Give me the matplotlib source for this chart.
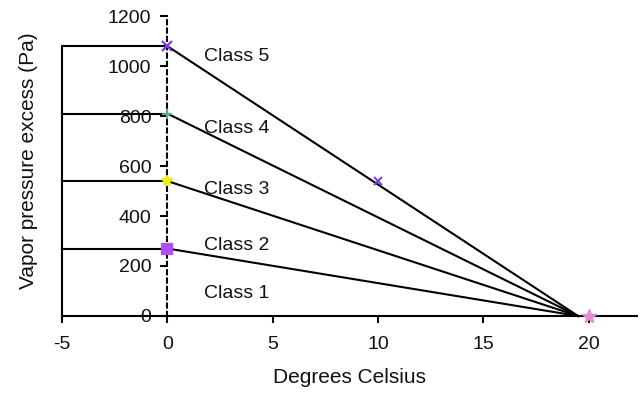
import matplotlib.pyplot as plt

plt.rcParams['font.family'] = ['Liberation Sans', 'DejaVu Sans']
plt.rcParams['axes.unicode_minus'] = False

# vapour pressure excess at 0 degC for each class boundary, falling to 0 near 20 degC
classes = ['Class 2', 'Class 3', 'Class 4', 'Class 5']
p_at_zero = [270, 540, 810, 1080]
t_zero = 0
t_end = 19.5
t_left = -5
marker_colors = ['#b44cf0', '#f0f000', '#5aa89a', '#7a3ce0']
marker_styles = ['s', '*', '+', 'x']

mid_point = (10, 540)
end_point = (20, 0)

label_names = ['Class 5', 'Class 4', 'Class 3', 'Class 2', 'Class 1']
label_y = [1040, 752, 508, 282, 88]
label_x = 1.75

fig = plt.figure(figsize=(6.42, 3.93), dpi=100)
ax = fig.add_axes([0.0966, 0.196, 0.8956, 0.763])

for p, c, m in zip(p_at_zero, marker_colors, marker_styles):
    ax.plot([t_left, t_zero], [p, p], color='black', lw=1.5, clip_on=False)
    ax.plot([t_zero, t_end], [p, 0], color='black', lw=1.5, clip_on=False)
    ax.plot(t_zero, p, marker=m, color=c, ms=7, mew=1.6, clip_on=False, zorder=5)

# left boundary line
ax.plot([t_left, t_left], [0, max(p_at_zero)], color='black', lw=1.5, clip_on=False)
ax.plot(mid_point[0], mid_point[1], marker='x', color='#7a3ce0', ms=6, mew=1.4, zorder=5)
ax.plot(end_point[0], end_point[1], marker='*', color='#e58ad6', ms=10, mew=1, clip_on=False, zorder=5)

for name, y in zip(label_names, label_y):
    ax.text(label_x, y, name, fontsize=14, va='center', ha='left', color='#111111')

ax.set_xlim(-5, 22.3)
ax.set_ylim(0, 1200)
ax.set_xticks([-5, 0, 5, 10, 15, 20])
ax.set_yticks([0, 200, 400, 600, 800, 1000, 1200])

ax.spines['top'].set_visible(False)
ax.spines['right'].set_visible(False)
ax.spines['left'].set_position(('data', 0))
ax.spines['left'].set_linestyle((0, (2, 2)))
ax.spines['left'].set_linewidth(1.5)
ax.spines['bottom'].set_linewidth(1.5)

ax.tick_params(axis='x', direction='out', length=5, width=1.5, labelsize=14, pad=9.5,
               labelcolor='#111111')
ax.tick_params(axis='y', direction='out', length=5, width=1.5, labelsize=14, pad=6.5,
               labelcolor='#111111')

ax.set_xlabel('Degrees Celsius', fontsize=15, labelpad=11, color='#111111')
ax.set_ylabel('Vapor pressure excess (Pa)', fontsize=15, color='#111111')
ax.yaxis.label.set_verticalalignment('center')
ax.yaxis.set_label_coords(-0.059, 0.517)

fig.savefig('out.png', dpi=100)
